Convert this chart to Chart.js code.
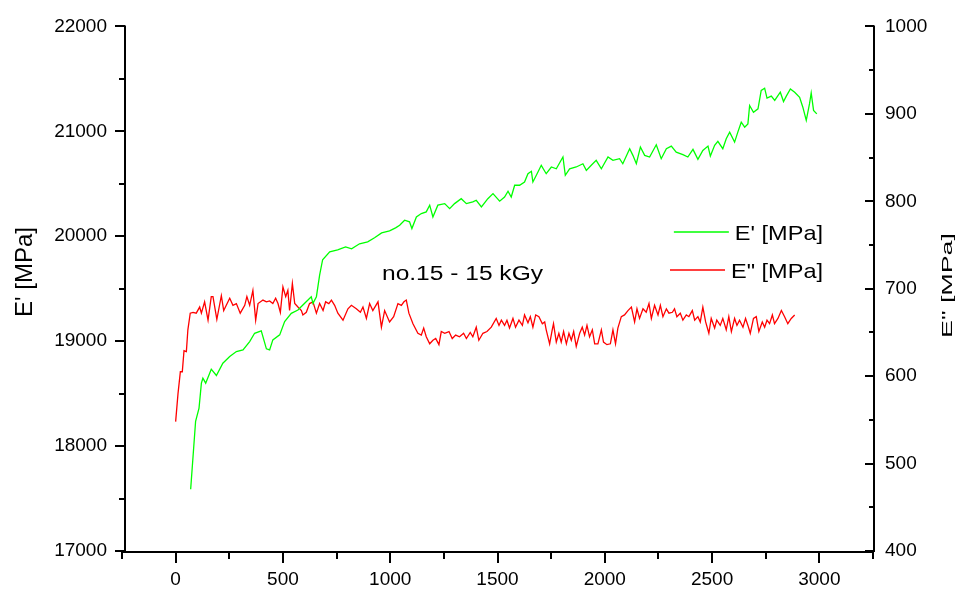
<!DOCTYPE html>
<html>
<head>
<meta charset="utf-8">
<title>E' / E" – no.15 - 15 kGy</title>
<script src="https://cdn.jsdelivr.net/npm/chart.js@4.4.1/dist/chart.umd.min.js"></script>
<style>
  html, body { margin: 0; padding: 0; background: #ffffff; overflow: hidden; }
  canvas { display: block; }
</style>
</head>
<body>
<canvas id="dma" width="961" height="590"></canvas>
<script>
// Storage modulus E' [MPa] against time
const storageTime = [70, 93, 109, 120, 127, 140, 166, 190, 220, 252, 283, 314, 345, 368, 399, 423, 438, 453, 485, 508,
  539, 570, 593, 632, 640, 656, 671, 685, 718, 755, 792, 820, 857, 895, 927, 960, 997, 1025, 1044, 1067,
  1090, 1101, 1122, 1145, 1168, 1184, 1199, 1222, 1254, 1277, 1300, 1331, 1355, 1385, 1401, 1425, 1455, 1479, 1510, 1533,
  1549, 1564, 1580, 1603, 1626, 1642, 1658, 1665, 1681, 1704, 1727, 1751, 1774, 1805, 1816, 1836, 1867, 1898, 1914, 1937,
  1960, 1984, 2015, 2038, 2069, 2084, 2116, 2131, 2147, 2166, 2186, 2209, 2240, 2263, 2287, 2310, 2333, 2364, 2387, 2411,
  2434, 2457, 2481, 2492, 2512, 2527, 2550, 2566, 2582, 2605, 2620, 2636, 2652, 2667, 2675, 2693, 2714, 2729, 2745, 2756,
  2776, 2792, 2807, 2818, 2833, 2846, 2865, 2885, 2908, 2923, 2939, 2954, 2962, 2973, 2988];
const storageModulus = [17589, 18236, 18362, 18600, 18647, 18600, 18733, 18673, 18790, 18853, 18901, 18917, 18996, 19075, 19098, 18927, 18917, 19012, 19060, 19186,
  19265, 19297, 19345, 19424, 19360, 19424, 19630, 19776, 19852, 19871, 19899, 19880, 19928, 19947, 19985, 20032, 20051, 20080, 20105, 20153,
  20137, 20073, 20184, 20216, 20232, 20296, 20184, 20296, 20311, 20263, 20311, 20358, 20311, 20327, 20343, 20279, 20358, 20406, 20334, 20374,
  20429, 20374, 20486, 20486, 20517, 20596, 20619, 20517, 20581, 20676, 20596, 20660, 20643, 20755, 20581, 20643, 20660, 20691, 20628, 20676,
  20723, 20643, 20755, 20723, 20739, 20691, 20834, 20771, 20691, 20850, 20771, 20755, 20872, 20739, 20834, 20859, 20802, 20777, 20755, 20828,
  20733, 20818, 20859, 20764, 20866, 20904, 20834, 20929, 20992, 20897, 20992, 21087, 21040, 21071, 21246, 21182, 21214, 21389, 21411, 21316,
  21335, 21294, 21341, 21373, 21284, 21335, 21404, 21373, 21325, 21230, 21104, 21261, 21366, 21199, 21166];

// Loss modulus E" [MPa] against time
const lossTime = [0, 11, 22, 31, 39, 50, 57, 68, 81, 96, 112, 120, 135, 151, 166, 174, 192, 213, 224, 236,
  252, 267, 283, 301, 322, 332, 345, 360, 373, 384, 407, 423, 438, 453, 466, 477, 488, 500, 513, 523,
  531, 544, 555, 570, 586, 593, 609, 624, 640, 656, 671, 687, 699, 714, 726, 741, 756, 780, 803, 819,
  842, 861, 873, 889, 904, 919, 943, 959, 974, 997, 1016, 1036, 1052, 1064, 1075, 1087, 1106, 1129, 1145, 1156,
  1168, 1184, 1199, 1212, 1227, 1238, 1254, 1274, 1289, 1305, 1323, 1342, 1355, 1373, 1385, 1401, 1413, 1432, 1451, 1471,
  1494, 1507, 1518, 1533, 1544, 1556, 1572, 1584, 1600, 1616, 1626, 1642, 1653, 1665, 1678, 1693, 1709, 1720, 1727, 1743,
  1755, 1761, 1774, 1786, 1797, 1808, 1821, 1833, 1844, 1855, 1867, 1883, 1895, 1906, 1917, 1929, 1942, 1953, 1968, 1984,
  1994, 2010, 2026, 2038, 2050, 2061, 2077, 2092, 2108, 2124, 2139, 2150, 2162, 2178, 2193, 2206, 2217, 2232, 2248, 2259,
  2271, 2287, 2299, 2315, 2325, 2336, 2352, 2364, 2380, 2392, 2408, 2419, 2434, 2445, 2457, 2470, 2485, 2496, 2512, 2522,
  2538, 2550, 2566, 2578, 2590, 2605, 2616, 2628, 2644, 2656, 2667, 2678, 2693, 2706, 2718, 2734, 2745, 2756, 2768, 2781,
  2791, 2807, 2823, 2838, 2853, 2869, 2885];
const lossModulus = [548, 580, 605, 605, 629, 628, 653, 672, 673, 672, 679, 672, 685, 664, 691, 691, 665, 692, 675, 681,
  689, 681, 683, 672, 681, 691, 681, 698, 664, 683, 687, 685, 686, 683, 689, 683, 673, 702, 691, 698,
  675, 706, 683, 679, 675, 670, 673, 683, 685, 672, 683, 675, 685, 683, 687, 681, 672, 664, 677, 681,
  677, 673, 679, 666, 683, 675, 685, 656, 675, 662, 668, 683, 681, 685, 687, 672, 660, 649, 647, 655,
  645, 637, 641, 643, 636, 651, 649, 651, 643, 647, 645, 649, 643, 650, 645, 656, 641, 649, 651, 656,
  666, 658, 664, 658, 664, 655, 666, 656, 664, 658, 670, 661, 668, 656, 670, 668, 660, 662, 653, 637,
  653, 660, 639, 649, 639, 651, 637, 649, 641, 651, 634, 649, 656, 647, 658, 645, 653, 637, 637, 653,
  639, 636, 637, 653, 637, 655, 668, 670, 675, 679, 662, 677, 666, 677, 673, 683, 666, 681, 670, 681,
  668, 677, 672, 673, 677, 668, 672, 664, 670, 668, 675, 664, 668, 662, 679, 662, 649, 666, 655, 664,
  658, 666, 653, 668, 651, 666, 658, 664, 656, 666, 658, 649, 666, 668, 651, 662, 656, 664, 660, 670,
  660, 666, 675, 668, 660, 666, 670];

// Tick labels of the three axes
const timeTicks = [0, 500, 1000, 1500, 2000, 2500, 3000];
const storageTicks = [17000, 18000, 19000, 20000, 21000, 22000];
const lossTicks = [400, 500, 600, 700, 800, 900, 1000];

const seriesNames = ["E' [MPa]", 'E" [MPa]'];
const storageTitle = "E' [MPa]";
const lossTitle = 'E" [MPa]';
const sampleName = 'no.15 - 15 kGy';

const FONT = "'Liberation Sans', Arial, Helvetica, sans-serif";

const toPoints = (xs, ys) => xs.map((x, i) => ({ x: x, y: ys[i] }));

// Axis lines with outward/inward major and minor ticks
const axesPlugin = {
  id: 'axesFrame',
  afterDatasetsDraw(chart) {
    const { ctx, chartArea: a } = chart;
    const sx = chart.scales.x, sl = chart.scales.y, sr = chart.scales.y2;
    const yb = a.bottom + 1;
    const xl = a.left + 3;
    const xr = a.right + 1;
    ctx.save();
    ctx.strokeStyle = '#000';
    ctx.lineWidth = 2;
    ctx.lineCap = 'butt';
    const seg = (x1, y1, x2, y2) => { ctx.beginPath(); ctx.moveTo(x1, y1); ctx.lineTo(x2, y2); ctx.stroke(); };
    // bottom
    seg(sx.left, yb, sx.right + 1, yb);
    for (let v = sx.min; v <= sx.max; v += 250) {
      const p = Math.round(sx.getPixelForValue(v));
      seg(p, yb, p, yb + (v % 500 === 0 ? 11 : 7));
    }
    // left
    seg(xl, sl.getPixelForValue(sl.max) - 1, xl, yb);
    for (let v = sl.min; v <= sl.max; v += 500) {
      const p = Math.round(sl.getPixelForValue(v));
      seg(xl - (v % 1000 === 0 ? 10 : 6), p, xl, p);
    }
    // right
    seg(xr, sr.getPixelForValue(sr.max) - 1, xr, yb);
    for (let v = sr.min; v <= sr.max; v += 50) {
      const p = Math.round(sr.getPixelForValue(v));
      seg(xr - (v % 100 === 0 ? 9 : 5), p, xr, p);
    }
    ctx.restore();
  }
};

// Axis titles, sample name and line legend
const textPlugin = {
  id: 'texts',
  afterDraw(chart) {
    const ctx = chart.ctx;
    ctx.save();
    ctx.fillStyle = '#000';
    ctx.textBaseline = 'alphabetic';

    // left axis title
    ctx.save();
    ctx.font = '24px ' + FONT;
    ctx.translate(32, 317);
    ctx.rotate(-Math.PI / 2);
    ctx.textAlign = 'left';
    ctx.fillText(storageTitle, 0, 0);
    ctx.restore();

    // right axis title (narrow, tall lettering)
    ctx.save();
    ctx.font = '14px ' + FONT;
    ctx.translate(952, 338);
    ctx.rotate(-Math.PI / 2);
    const wR = ctx.measureText(lossTitle).width;
    ctx.scale(105 / wR, 1);
    ctx.textAlign = 'left';
    ctx.fillText(lossTitle, 0, 0);
    ctx.restore();

    // sample name
    ctx.save();
    ctx.font = '20px ' + FONT;
    const wS = ctx.measureText(sampleName).width;
    ctx.translate(382, 279.5);
    ctx.scale(161 / wS, 1);
    ctx.textAlign = 'left';
    ctx.fillText(sampleName, 0, 0);
    ctx.restore();

    // legend
    const right = 823;
    const rows = [{ base: 239.5, line: 232 }, { base: 278, line: 270 }];
    chart.data.datasets.forEach((ds, i) => {
      ctx.save();
      ctx.font = '21px ' + FONT;
      const sxl = 1.12;
      const w = ctx.measureText(ds.label).width * sxl;
      const left = right - w;
      ctx.strokeStyle = ds.borderColor;
      ctx.lineWidth = 1.5;
      ctx.beginPath();
      ctx.moveTo(left - 61, rows[i].line);
      ctx.lineTo(left - 6, rows[i].line);
      ctx.stroke();
      ctx.translate(left, rows[i].base);
      ctx.scale(sxl, 1);
      ctx.textAlign = 'left';
      ctx.fillText(ds.label, 0, 0);
      ctx.restore();
    });
    ctx.restore();
  }
};

const tickFont = { family: FONT, size: 19 };

new Chart(document.getElementById('dma'), {
  type: 'line',
  data: {
    datasets: [
      {
        label: seriesNames[0],
        data: toPoints(storageTime, storageModulus),
        yAxisID: 'y',
        borderColor: '#00ff00',
        borderWidth: 1.3,
        pointRadius: 0,
        tension: 0,
        fill: false
      },
      {
        label: seriesNames[1],
        data: toPoints(lossTime, lossModulus),
        yAxisID: 'y2',
        borderColor: '#ff0000',
        borderWidth: 1.3,
        pointRadius: 0,
        tension: 0,
        fill: false
      }
    ]
  },
  options: {
    responsive: false,
    animation: false,
    events: [],
    layout: { padding: { top: 24, left: 0, right: 0, bottom: 0 } },
    plugins: { legend: { display: false }, tooltip: { enabled: false }, title: { display: false } },
    scales: {
      x: {
        type: 'linear',
        position: 'bottom',
        min: -250,
        max: 3250,
        afterBuildTicks: s => { s.ticks = timeTicks.map(v => ({ value: v })); },
        afterFit: s => { s.height = 39; },
        grid: { display: false, drawTicks: false, tickLength: 0 },
        border: { display: false },
        ticks: { padding: 17, font: tickFont, color: '#000', maxRotation: 0, autoSkip: false, callback: v => String(v) }
      },
      y: {
        type: 'linear',
        position: 'left',
        min: 17000,
        max: 22000,
        afterBuildTicks: s => { s.ticks = storageTicks.map(v => ({ value: v })); },
        afterFit: s => { s.width = 122; },
        grid: { display: false, drawTicks: false, tickLength: 0 },
        border: { display: false },
        ticks: { padding: 15, font: tickFont, color: '#000', autoSkip: false, callback: v => String(v) }
      },
      y2: {
        type: 'linear',
        position: 'right',
        min: 400,
        max: 1000,
        afterBuildTicks: s => { s.ticks = lossTicks.map(v => ({ value: v })); },
        afterFit: s => { s.width = 88; },
        grid: { display: false, drawTicks: false, tickLength: 0 },
        border: { display: false },
        ticks: { padding: 12, font: tickFont, color: '#000', autoSkip: false, callback: v => String(v) }
      }
    }
  },
  plugins: [axesPlugin, textPlugin]
});
</script>
</body>
</html>
